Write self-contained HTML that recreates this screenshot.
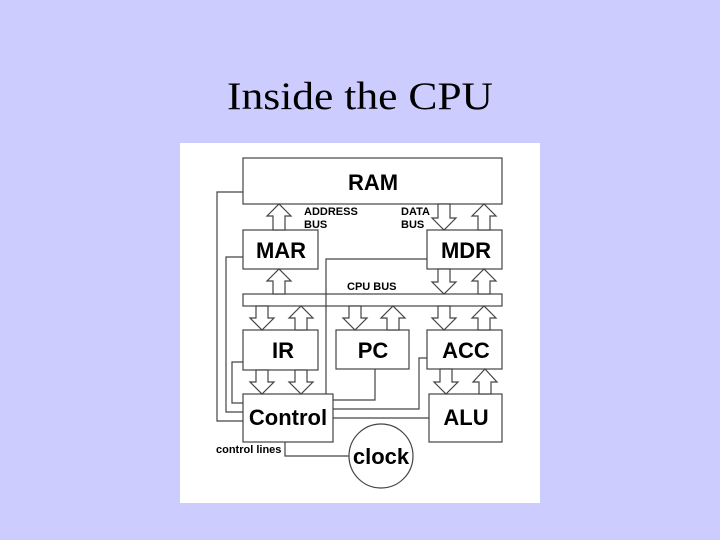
<!DOCTYPE html>
<html><head><style>
body{margin:0;background:#ccccff;}
svg{display:block}
</style></head><body>
<svg width="720" height="540" xmlns="http://www.w3.org/2000/svg">
<rect width="720" height="540" fill="#ccccff"/>
<text x="227" y="109" font-family="Liberation Serif, serif" font-size="39" textLength="266" lengthAdjust="spacingAndGlyphs" fill="#000">Inside the CPU</text>
<rect x="180" y="143" width="360" height="360" fill="#fff"/>
<g fill="none" stroke="#444" stroke-width="1.2">
<rect x="243" y="158" width="259" height="46"/>
<rect x="243" y="230" width="75" height="39"/>
<rect x="427" y="230" width="75" height="39"/>
<rect x="243" y="294" width="259" height="12"/>
<rect x="243" y="330" width="75" height="40"/>
<rect x="336" y="330" width="73" height="39"/>
<rect x="427" y="330" width="75" height="39"/>
<rect x="243" y="394" width="90" height="48"/>
<rect x="429" y="394" width="73" height="48"/>
<circle cx="381" cy="456" r="32"/>
<polyline points="243,192 217,192 217,421 243,421"/>
<polyline points="243,257 226,257 226,412 243,412"/>
<polyline points="243,362 232,362 232,403 243,403"/>
<polyline points="427,259 326,259 326,394"/>
<polyline points="375,369 375,400 333,400"/>
<polyline points="427,358 419,358 419,409 333,409"/>
<line x1="333" y1="418" x2="429" y2="418"/>
<polyline points="285,442 285,456 349,456"/>
</g>
<g fill="#fff" stroke="#444" stroke-width="1.2">
<path d="M273,230 V216 H267 L279,204 L291,216 H285 V230 Z"/>
<path d="M478,230 V216 H472 L484,204 L496,216 H490 V230 Z"/>
<path d="M273,294 V281 H267 L279,269 L291,281 H285 V294 Z"/>
<path d="M478,294 V281 H472 L484,269 L496,281 H490 V294 Z"/>
<path d="M295,330 V318 H289 L301,306 L313,318 H307 V330 Z"/>
<path d="M387,330 V318 H381 L393,306 L405,318 H399 V330 Z"/>
<path d="M478,330 V318 H472 L484,306 L496,318 H490 V330 Z"/>
<path d="M479,394 V382 H473 L485,369 L497,382 H491 V394 Z"/>
<path d="M438,204 V218 H432 L444,230 L456,218 H450 V204 Z"/>
<path d="M438,269 V282 H432 L444,294 L456,282 H450 V269 Z"/>
<path d="M256,306 V318 H250 L262,330 L274,318 H268 V306 Z"/>
<path d="M349,306 V318 H343 L355,330 L367,318 H361 V306 Z"/>
<path d="M438,306 V318 H432 L444,330 L456,318 H450 V306 Z"/>
<path d="M256,370 V382 H250 L262,394 L274,382 H268 V370 Z"/>
<path d="M295,370 V382 H289 L301,394 L313,382 H307 V370 Z"/>
<path d="M440,369 V382 H434 L446,394 L458,382 H452 V369 Z"/>
</g>
<g font-family="Liberation Sans, sans-serif" font-weight="bold" fill="#000" text-anchor="middle">
<text x="373" y="190" font-size="22">RAM</text>
<text x="281" y="258" font-size="22">MAR</text>
<text x="466" y="258" font-size="22">MDR</text>
<text x="283" y="358" font-size="22">IR</text>
<text x="373" y="358" font-size="22">PC</text>
<text x="466" y="358" font-size="22">ACC</text>
<text x="288" y="425" font-size="22">Control</text>
<text x="466" y="425" font-size="22">ALU</text>
<text x="381" y="464" font-size="22">clock</text>
</g>
<g font-family="Liberation Sans, sans-serif" font-weight="bold" fill="#000" font-size="11">
<text x="304" y="215">ADDRESS</text>
<text x="304" y="228">BUS</text>
<text x="401" y="215">DATA</text>
<text x="401" y="228">BUS</text>
<text x="347" y="290">CPU BUS</text>
<text x="216" y="453">control lines</text>
</g>
</svg>
</body></html>
